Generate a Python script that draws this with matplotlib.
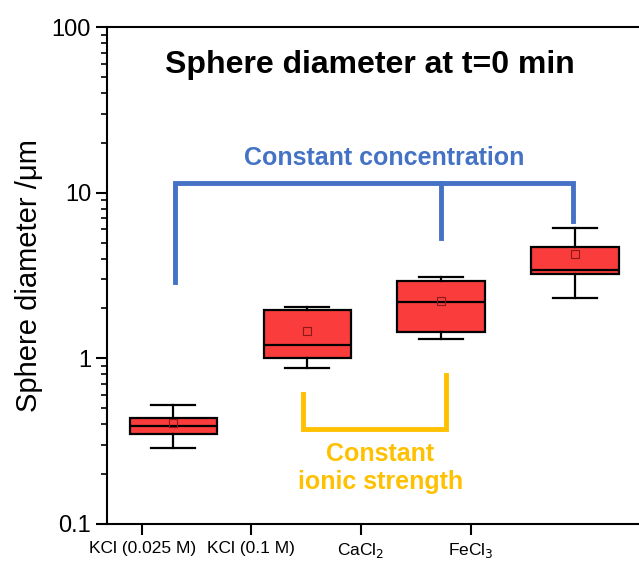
import numpy as np
import matplotlib
matplotlib.use("Agg")
import matplotlib.pyplot as plt

plt.rcParams['font.family'] = ['Liberation Sans', 'DejaVu Sans']

# data (sphere diameter, um)
labels = ['KCl (0.025 M)', 'KCl (0.1 M)', 'CaCl$_2$', 'FeCl$_3$']
whislo = [0.288, 0.87, 1.31, 2.32]
q1 = [0.349, 1.00, 1.44, 3.21]
med = [0.39, 1.21, 2.18, 3.43]
q3 = [0.434, 1.96, 2.94, 4.67]
whishi = [0.52, 2.04, 3.11, 6.1]
means = [0.408, 1.46, 2.23, 4.25]

box_pos = [1, 2, 3, 4]
tick_pos = [0.77, 1.58, 2.40, 3.22]  # tick labels sit left of the boxes in the original

blue = '#4472C4'
yellow = '#FFC000'

fig = plt.figure(figsize=(6.39, 5.65), dpi=100)
ax = fig.add_axes([0.1675, 0.0726, 0.8326, 0.8796])

stats = []
for i in range(len(labels)):
    stats.append(dict(whislo=whislo[i], q1=q1[i], med=med[i], q3=q3[i],
                      whishi=whishi[i], mean=means[i], fliers=[]))

ax.bxp(stats, positions=box_pos, widths=0.65, capwidths=0.33,
       showmeans=True, patch_artist=True,
       boxprops=dict(facecolor='#FA3C3C', edgecolor='black', linewidth=1.6),
       medianprops=dict(color='black', linewidth=1.6),
       whiskerprops=dict(color='black', linewidth=1.6),
       capprops=dict(color='black', linewidth=1.6),
       meanprops=dict(marker='s', markerfacecolor='none',
                      markeredgecolor='#8B1A1A', markersize=6, markeredgewidth=0.8))

ax.set_yscale('log')
ax.set_ylim(0.1, 100)
ax.set_xlim(0.507, 4.478)
ax.set_xticks(tick_pos)
ax.set_xticklabels(labels)
ax.set_yticks([0.1, 1, 10, 100])
ax.set_yticklabels(['0.1', '1', '10', '100'])
ax.tick_params(axis='y', which='major', direction='out', length=8, width=1.5, labelsize=17)
ax.tick_params(axis='y', which='minor', direction='out', length=4, width=1.2)
ax.tick_params(axis='x', direction='out', length=8, width=1.5, pad=4, labelsize=12.5)

for s in ['left', 'bottom', 'top']:
    ax.spines[s].set_linewidth(1.5)
ax.spines['right'].set_visible(False)

ax.set_ylabel('Sphere diameter /μm', fontsize=21, labelpad=6)

ax.text(2.47, 59, 'Sphere diameter at t=0 min', fontsize=23, fontweight='bold',
        ha='center', va='center')

# blue bracket: constant concentration
ax.plot([1.015, 1.015, 3.985, 3.985], [2.89, 11.4, 11.4, 6.76],
        color=blue, linewidth=3.5, solid_joinstyle='miter')
ax.plot([3.0, 3.0], [11.4, 5.32], color=blue, linewidth=3.5)
ax.text(2.575, 16.2, 'Constant concentration', color=blue, fontsize=18,
        fontweight='bold', ha='center', va='center')

# yellow bracket: constant ionic strength
ax.plot([1.97, 1.97, 3.04, 3.04], [0.61, 0.374, 0.374, 0.79],
        color=yellow, linewidth=3.5, solid_joinstyle='miter')
ax.text(2.545, 0.218, 'Constant\nionic strength', color=yellow, fontsize=18,
        fontweight='bold', ha='center', va='center', linespacing=1.25)

fig.savefig('out.png', dpi=100)
